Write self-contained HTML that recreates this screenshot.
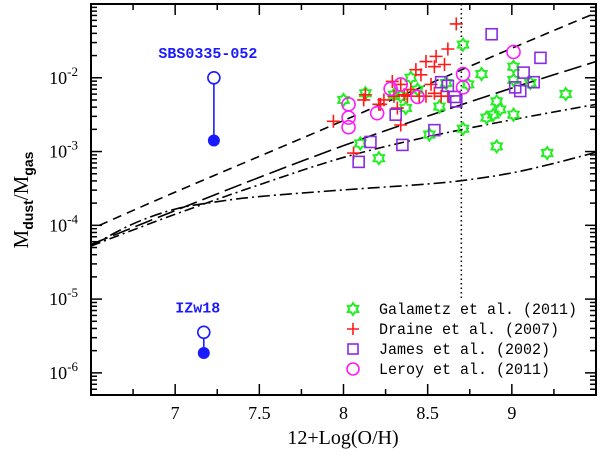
<!DOCTYPE html>
<html><head><meta charset="utf-8"><style>
body{margin:0;background:#fff}
</style></head><body>
<svg id="chart" width="600" height="452" xmlns="http://www.w3.org/2000/svg">
</svg>
<script>
// ---- data ----
const xTicks=[7,7.5,8,8.5,9];
const yDecades=[-6,-5,-4,-3,-2];
const galametz=[[8.71,-1.55],[8.82,-1.95],[8.74,-2.09],[8.61,-2.07],[8.40,-2.00],[8.44,-2.16],[8.13,-2.21],[8.00,-2.30],[8.37,-2.41],[8.57,-2.39],[8.51,-2.77],[8.71,-2.69],[8.91,-2.32],[8.93,-2.43],[9.01,-2.50],[8.89,-2.50],[8.85,-2.54],[8.91,-2.93],[9.21,-3.02],[8.21,-3.09],[8.10,-2.89],[9.01,-1.85],[9.01,-2.03],[9.11,-2.07],[9.32,-2.22],[8.34,-2.25],[8.30,-2.23]];
const draine=[[8.67,-1.27],[8.62,-1.61],[8.49,-1.78],[8.55,-1.71],[8.54,-1.85],[8.60,-1.82],[8.43,-1.89],[8.46,-1.96],[8.29,-2.05],[8.34,-2.09],[8.40,-2.16],[8.36,-2.23],[8.30,-2.25],[8.24,-2.30],[8.22,-2.36],[8.12,-2.30],[8.13,-2.23],[8.21,-2.36],[8.32,-2.41],[8.34,-2.64],[8.06,-3.02],[7.94,-2.59],[8.49,-2.25],[8.54,-2.21],[8.58,-2.25],[8.52,-2.09],[8.45,-2.25],[8.38,-2.25],[8.62,-2.25]];
const james=[[8.88,-1.41],[9.17,-1.73],[9.07,-1.93],[9.13,-2.06],[9.02,-2.13],[9.05,-2.18],[8.58,-2.06],[8.62,-2.11],[8.66,-2.26],[8.67,-2.32],[8.31,-2.50],[8.54,-2.71],[8.16,-2.87],[8.35,-2.91],[8.09,-3.14]];
const leroy=[[9.01,-1.65],[8.71,-1.95],[8.71,-2.13],[8.44,-2.26],[8.34,-2.09],[8.28,-2.15],[8.20,-2.48],[8.03,-2.36],[8.03,-2.54],[8.03,-2.67]];
const curveShort=[[6.55,-4.0],[7.0,-3.55],[8.0,-2.58],[9.0,-1.6],[9.5,-1.12]];
const curveLong=[[6.5,-4.26],[7.0,-3.80],[7.5,-3.35],[8.0,-2.92],[8.5,-2.52],[9.0,-2.14],[9.5,-1.78]];
const curveDashDot=[[6.5,-4.28],[7.0,-3.85],[7.5,-3.45],[8.0,-3.08],[8.5,-2.80],[9.0,-2.57],[9.5,-2.36]];
const curveLower=[[6.5,-4.28],[6.75,-3.98],[7.0,-3.78],[7.25,-3.68],[7.5,-3.61],[8.0,-3.52],[8.5,-3.44],[8.75,-3.38],[9.0,-3.29],[9.25,-3.16],[9.5,-3.01]];
const sbs=[7.23,-2.0,-2.85];
const izw=[7.17,-5.45,-5.73];
const solarX=8.7;

// ---- axes ----
const L=91,R=596,T=4,B=395;
const X=v=>L+(v-6.5)/3*(R-L);
const Y=v=>T+(-1-v)/5.3*(B-T);
const svg=document.getElementById('chart');
const NS='http://www.w3.org/2000/svg';
function mk(tag,attrs,parent){const e=document.createElementNS(NS,tag);for(const k in attrs)e.setAttribute(k,attrs[k]);(parent||svg).appendChild(e);return e;}

const frame=mk('rect',{x:L,y:T,width:R-L,height:B-T,fill:'none',stroke:'#000','stroke-width':2});



for(let v=6.5;v<=9.5001;v+=0.25){
  const major=Math.abs(v*2-Math.round(v*2))<1e-6;
  const len=major?11:6;
  const t1=mk('line',{x1:X(v),x2:X(v),y1:B,y2:B-len,stroke:'#000','stroke-width':1.5});
  
  
  const t2=mk('line',{x1:X(v),x2:X(v),y1:T,y2:T+len,stroke:'#000','stroke-width':1.5});
  
  
}
xTicks.forEach(v=>{
  const t=mk('text',{x:X(v),y:419,'text-anchor':'middle','font-size':18,'font-family':'Liberation Serif, serif'});
  t.textContent=String(v);
  
  
});
for(let d=-7;d<=-1;d++){
  for(let m=1;m<=9;m++){
    const lv=d+Math.log10(m);
    if(lv< -6.3||lv>-1)continue;
    const len=m===1?11:6;
    const a=mk('line',{x1:L,x2:L+len,y1:Y(lv),y2:Y(lv),stroke:'#000','stroke-width':1.5});
    
    
    const b=mk('line',{x1:R,x2:R-len,y1:Y(lv),y2:Y(lv),stroke:'#000','stroke-width':1.5});
    
    
  }
}
yDecades.forEach(d=>{
  const t=mk('text',{x:78,y:Y(d)+6,'text-anchor':'end','font-size':18,'font-family':'Liberation Serif, serif'});
  t.innerHTML='10<tspan dy="-8" font-size="13">'+d+'</tspan>';
  
  
});

function smoothPath(arr){
  const p=arr.map(q=>[X(q[0]),Y(q[1])]);
  let d='M'+p[0][0]+','+p[0][1];
  for(let i=0;i<p.length-1;i++){
    const p0=p[Math.max(0,i-1)],p1=p[i],p2=p[i+1],p3=p[Math.min(p.length-1,i+2)];
    const c1=[p1[0]+(p2[0]-p0[0])/6,p1[1]+(p2[1]-p0[1])/6];
    const c2=[p2[0]-(p3[0]-p1[0])/6,p2[1]-(p3[1]-p1[1])/6];
    d+=`C${c1[0]},${c1[1]} ${c2[0]},${c2[1]} ${p2[0]},${p2[1]}`;
  }
  return d;
}
function curve(arr,dash,name){
  const p=mk('path',{d:smoothPath(arr),fill:'none',stroke:'#000','stroke-width':1.6,'stroke-dasharray':dash});
  
  
}
curve(curveShort,'9 6','model-curve-short-dash');
curve(curveLong,'18 6','model-curve-long-dash');
curve(curveDashDot,'10 4 2 4','model-curve-dash-dot');
curve(curveLower,'12 4 2 4','model-curve-lower-dash-dot');

const sl=mk('line',{x1:X(solarX),x2:X(solarX),y1:T,y2:Y(-5.0),stroke:'#000','stroke-width':1.5,'stroke-dasharray':'1.5 3'});



function star(cx,cy,r){let s='';for(let i=0;i<12;i++){const a=Math.PI/6*i-Math.PI/2;const rr=i%2?r*0.62:r;s+=(cx+rr*Math.cos(a))+','+(cy+rr*Math.sin(a))+' ';}return s;}
function drawStar(cx,cy,r){return mk('polygon',{points:star(cx,cy,r),fill:'none',stroke:'#22ee22','stroke-width':2});}
function drawCross(cx,cy,r){return mk('path',{d:`M${cx-r},${cy}H${cx+r}M${cx},${cy-r}V${cy+r}`,stroke:'#ff1a1a','stroke-width':1.6,fill:'none'});}
function drawSq(cx,cy,r){return mk('rect',{x:cx-r,y:cy-r,width:2*r,height:2*r,fill:'none',stroke:'#8a2be2','stroke-width':1.6});}
function drawCirc(cx,cy,r){return mk('circle',{cx:cx,cy:cy,r:r,fill:'none',stroke:'#ff1aff','stroke-width':1.6});}

galametz.forEach(q=>{const e=drawStar(X(q[0]),Y(q[1]),6);
  
  });
draine.forEach(q=>{const e=drawCross(X(q[0]),Y(q[1]),6.5);
  
  });
james.forEach(q=>{const e=drawSq(X(q[0]),Y(q[1]),5.5);
  
  });
leroy.forEach(q=>{const e=drawCirc(X(q[0]),Y(q[1]),6.5);
  
  });

function galaxy(g,name,label){
  const x=X(g[0]);
  const ln=mk('line',{x1:x,x2:x,y1:Y(g[1]),y2:Y(g[2]),stroke:'#1a1aff','stroke-width':1.6});
  
  
  const o=mk('circle',{cx:x,cy:Y(g[1]),r:6,fill:'#fff',stroke:'#1a1aff','stroke-width':1.6});
  
  
  const f=mk('circle',{cx:x,cy:Y(g[2]),r:6,fill:'#1a1aff'});
  
  
  const t=mk('text',{x:x-6,y:Y(g[1])-20,'text-anchor':'middle','font-size':15,'font-weight':'bold',fill:'#1a1aff','font-family':'Liberation Mono, monospace'});
  t.textContent=label;
  
  
}
galaxy(sbs,'sbs0335','SBS0335-052');
galaxy(izw,'izw18','IZw18');

const legend=[['Galametz et al. (2011)','star'],['Draine et al. (2007)','cross'],['James et al. (2002)','sq'],['Leroy et al. (2011)','circ']];
legend.forEach((l,i)=>{
  const y=309+i*20;
  let m;
  if(l[1]==='star')m=drawStar(353,y,6);
  if(l[1]==='cross')m=drawCross(353,y,6);
  if(l[1]==='sq')m=drawSq(353,y,5);
  if(l[1]==='circ')m=drawCirc(353,y,6);
  
  
  const t=mk('text',{x:379,y:y+5,'font-size':16,'font-family':'Liberation Mono, monospace','textLength':l[0].length*9.0,'lengthAdjust':'spacingAndGlyphs'});
  t.textContent=l[0];
  
  
});

const xt=mk('text',{x:343,y:444,'text-anchor':'middle','font-size':20,'font-family':'Liberation Serif, serif'});
xt.textContent='12+Log(O/H)';


const yt=mk('text',{x:0,y:0,'text-anchor':'middle','font-size':21,'font-family':'Liberation Serif, serif',transform:'translate(28,200) rotate(-90)'});
yt.innerHTML='M<tspan dy="5" font-size="14" font-family="Liberation Sans, sans-serif" font-weight="bold">dust</tspan><tspan dy="-5">/M</tspan><tspan dy="5" font-size="14" font-family="Liberation Sans, sans-serif" font-weight="bold">gas</tspan>';


</script>
</body></html>
